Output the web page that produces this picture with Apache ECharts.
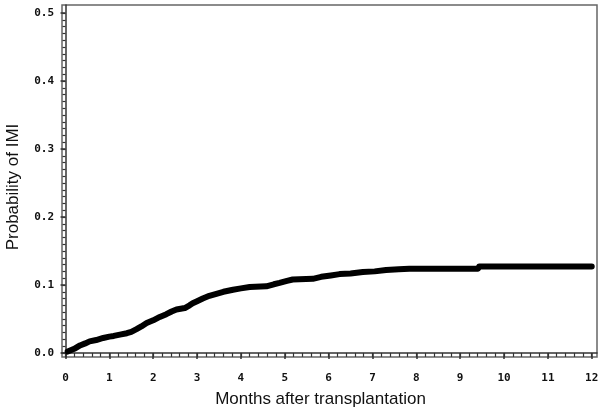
<!DOCTYPE html>
<html lang="en">

<head>
    <meta charset="UTF-8">
    <title>Probability of IMI</title>
    <script src="https://cdn.jsdelivr.net/npm/echarts@6/dist/echarts.min.js"></script>
</head>

<body style="margin:0;background:#fff;">
    <div id="main" style="width: 600px;height:409px;"></div>

    <script type="text/javascript">
        // cumulative incidence curve
        var months = [0.05, 0.2, 0.33, 0.45, 0.55, 0.7, 0.86, 1.0, 1.1, 1.24, 1.4, 1.5, 1.62, 1.73, 1.85,
            2.0, 2.15, 2.3, 2.42, 2.53, 2.72, 2.83, 2.9, 3.0, 3.13, 3.28, 3.44, 3.6, 3.82, 4.0, 4.2,
            4.58, 4.75, 4.88, 5.05, 5.18, 5.64, 5.83, 6.05, 6.25, 6.5, 6.78, 7.05, 7.31, 7.6, 7.84,
            9.41, 9.43, 12.0];
        var probs = [0.002, 0.006, 0.011, 0.014, 0.017, 0.019, 0.022, 0.024, 0.025, 0.027, 0.029, 0.031, 0.035, 0.039, 0.044,
            0.048, 0.053, 0.057, 0.061, 0.064, 0.066, 0.070, 0.073, 0.076, 0.080, 0.084, 0.087, 0.090, 0.093, 0.095, 0.097,
            0.098, 0.101, 0.103, 0.106, 0.108, 0.109, 0.112, 0.114, 0.116, 0.117, 0.119, 0.120, 0.122, 0.123, 0.124,
            0.124, 0.127, 0.127];

        var xTicks = [0, 1, 2, 3, 4, 5, 6, 7, 8, 9, 10, 11, 12];
        var yTicks = [0, 0.1, 0.2, 0.3, 0.4, 0.5];

        var xMinor = [];
        for (var i = 0; i <= 60; i++) xMinor.push(+(i * 0.2).toFixed(1));
        var yMinor = [];
        for (var j = 0; j <= 50; j++) yMinor.push(+(j * 0.01).toFixed(2));

        var points = months.map(function (m, k) { return [m, probs[k]]; });

        var myChart = echarts.init(document.getElementById('main'));

        var axisCol = '#333';
        var tickFont = {
            fontFamily: 'DejaVu Sans Mono',
            fontWeight: 'bold',
            fontSize: 11,
            color: '#111'
        };

        var option = {
            animation: false,
            backgroundColor: '#fff',
            grid: {
                left: 62, right: 3, top: 5, bottom: 52,
                outerBoundsMode: 'none',
                containLabel: false,
                show: true, borderColor: '#666', borderWidth: 1.5
            },
            xAxis: [{
                type: 'value',
                position: 'bottom',
                min: -0.08, max: 12.12,
                axisLine: { show: true, lineStyle: { color: axisCol, width: 1.5 } },
                axisTick: { show: true, inside: false, customValues: xTicks, length: 6, lineStyle: { color: axisCol, width: 1.5 } },
                axisLabel: Object.assign({ customValues: xTicks, margin: 16, formatter: function (v) { return String(v); } }, tickFont),
                splitLine: { show: false },
                name: 'Months after transplantation',
                nameLocation: 'middle',
                nameGap: 34,
                nameTextStyle: { fontFamily: 'Liberation Sans', fontSize: 17, color: '#111', padding: [0, 18, 0, 0] }
            }, {
                type: 'value',
                position: 'bottom',
                offset: 0,
                min: -0.08, max: 12.12,
                axisLine: { show: false },
                axisTick: { show: true, inside: false, customValues: xMinor, length: 4, lineStyle: { color: axisCol, width: 1.2 } },
                axisLabel: { show: false },
                splitLine: { show: false }
            }],
            yAxis: [{
                type: 'value',
                position: 'left',
                min: -0.006, max: 0.512,
                axisLine: { show: true, lineStyle: { color: axisCol, width: 1.5 } },
                axisTick: { show: true, inside: false, customValues: yTicks, length: 5, lineStyle: { color: axisCol, width: 1.5 } },
                axisLabel: Object.assign({ customValues: yTicks, margin: 8, formatter: function (v) { return v.toFixed(1); } }, tickFont),
                splitLine: { show: false },
                name: 'Probability of IMI',
                nameLocation: 'middle',
                nameGap: 40,
                nameTextStyle: { fontFamily: 'Liberation Sans', fontSize: 17, color: '#111', padding: [0, 12, 0, 0] }
            }, {
                type: 'value',
                position: 'left',
                offset: 0,
                min: -0.006, max: 0.512,
                axisLine: { show: false },
                axisTick: { show: true, inside: false, customValues: yMinor, length: 3, lineStyle: { color: axisCol, width: 1.2 } },
                axisLabel: { show: false },
                splitLine: { show: false }
            }],
            series: [{
                type: 'line',
                xAxisIndex: 0,
                yAxisIndex: 0,
                showSymbol: false,
                lineStyle: { color: '#000', width: 6, cap: 'round', join: 'round' },
                data: points
            }]
        };

        myChart.setOption(option);
    </script>
</body>

</html>
